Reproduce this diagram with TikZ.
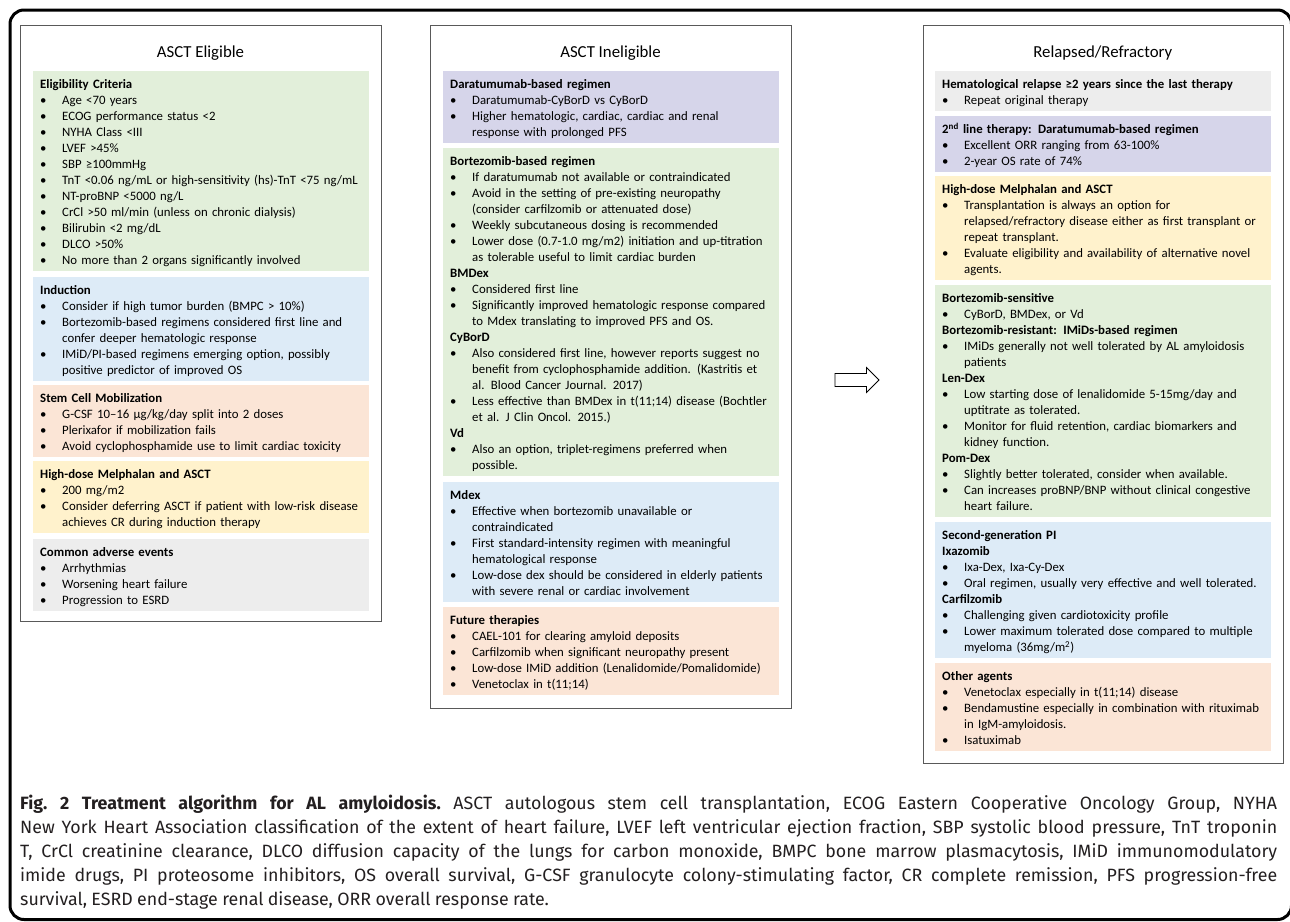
\documentclass[tikz,border=0pt]{standalone}
\usepackage{fontspec}
\setmainfont{Carlito}
\newfontfamily\capfont{Fira Sans}
\definecolor{cgreen}{HTML}{E2EFDA}
\definecolor{cblue}{HTML}{DDEBF7}
\definecolor{cpeach}{HTML}{FBE5D6}
\definecolor{cyellow}{HTML}{FFF2CC}
\definecolor{cgray}{HTML}{EDEDED}
\definecolor{clav}{HTML}{D6D5EA}
\definecolor{cframe}{HTML}{595959}
\definecolor{ctext}{HTML}{231F20}
\newcommand\hd[1]{\par\noindent\strut\textbf{#1}}
\newcommand\bu[1]{\par\noindent\strut\makebox[22pt][l]{\textbullet}#1}
\newcommand\ct[1]{\par\noindent\strut\hspace*{22pt}#1}
\newcommand\capset{\frenchspacing\spaceskip=4.4pt plus 30pt minus 1.2pt\relax}
\tikzset{
  panel/.style={draw=none, inner sep=0pt, outer sep=0pt, anchor=north west, minimum width=336pt},
  txt/.style={inner sep=0pt, text width=360pt, align=left, anchor=north west, font=\fontsize{12.8}{16}\selectfont},
  colbox/.style={draw=cframe, line width=1.3pt, inner sep=0pt, anchor=north west, minimum width=361pt},
  ttl/.style={anchor=base, inner sep=0pt, font=\fontsize{16.8}{19}\selectfont},
  capt/.style={anchor=north west, inner sep=0pt, text width=1257pt, text=ctext,
    font=\capfont\fontsize{17.8}{24}\selectfont},
  frame/.style={draw=black, line width=3pt, rounded corners=14pt},
  blockarrow/.style={draw=black, line width=0.8pt, fill=white},
}
% name, colour, x, y, height, content
\newcommand\pnl[6]{%
  \node[panel, fill=#2, minimum height=#5pt] (#1) at (#3,#4) {};
  \node[txt] (#1t) at ([xshift=7pt,yshift=-1.2pt]#1.north west) {#6};}
\begin{document}
\begin{tikzpicture}[x=1pt,y=-1pt]
\useasboundingbox (0,0) rectangle (1290,921);
\begin{scope}
  \clip (0,0) rectangle (1290,921);
  \draw[frame] (10,10) rectangle (1291.5,919.5);
\end{scope}

% ---------- left column ----------
\node[colbox, minimum height=596pt] (c1) at (20,25) {};
\node[ttl] (h1) at (200.5,57.5) {ASCT Eligible};
\pnl{l1}{cgreen}{33}{71}{200}{%
\hd{Eligibility Criteria}
\bu{Age <70 years}
\bu{ECOG performance status <2}
\bu{NYHA Class <III}
\bu{LVEF >45\%}
\bu{SBP ≥100mmHg}
\bu{TnT <0.06 ng/mL or high-sensitivity (hs)-TnT <75 ng/mL}
\bu{NT-proBNP <5000 ng/L}
\bu{CrCl >50 ml/min (unless on chronic dialysis)}
\bu{Bilirubin <2 mg/dL}
\bu{DLCO >50\%}
\bu{No more than 2 organs significantly involved}}
\pnl{l2}{cblue}{33}{277}{104}{%
\hd{Induction}
\bu{Consider if high tumor burden (BMPC > 10\%)}
\bu{Bortezomib-based regimens considered first line and}
\ct{confer deeper hematologic response}
\bu{IMiD/PI-based regimens emerging option, possibly}
\ct{positive predictor of improved OS}}
\pnl{l3}{cpeach}{33}{385}{72}{%
\hd{Stem Cell Mobilization}
\bu{G-CSF 10–16 µg/kg/day split into 2 doses}
\bu{Plerixafor if mobilization fails}
\bu{Avoid cyclophosphamide use to limit cardiac toxicity}}
\pnl{l4}{cyellow}{33}{461}{72}{%
\hd{High-dose Melphalan and ASCT}
\bu{200 mg/m2}
\bu{Consider deferring ASCT if patient with low-risk disease}
\ct{achieves CR during induction therapy}}
\pnl{l5}{cgray}{33}{539}{72}{%
\hd{Common adverse events}
\bu{Arrhythmias}
\bu{Worsening heart failure}
\bu{Progression to ESRD}}

% ---------- middle column ----------
\node[colbox, minimum height=683pt] (c2) at (430,25) {};
\node[ttl] (h2) at (610.5,57.5) {ASCT Ineligible};
\pnl{m1}{clav}{443}{71}{72}{%
\hd{Daratumumab-based regimen}
\bu{Daratumumab-CyBorD vs CyBorD}
\bu{Higher hematologic, cardiac, cardiac and renal}
\ct{response with prolonged PFS}}
\pnl{m2}{cgreen}{443}{148}{328}{%
\hd{Bortezomib-based regimen}
\bu{If daratumumab not available or contraindicated}
\bu{Avoid in the setting of pre-existing neuropathy}
\ct{(consider carfilzomib or attenuated dose)}
\bu{Weekly subcutaneous dosing is recommended}
\bu{Lower dose (0.7-1.0 mg/m2) initiation and up-titration}
\ct{as tolerable useful to limit cardiac burden}
\hd{BMDex}
\bu{Considered first line}
\bu{Significantly improved hematologic response compared}
\ct{to Mdex translating to improved PFS and OS.}
\hd{CyBorD}
\bu{Also considered first line, however reports suggest no}
\ct{benefit from cyclophosphamide addition. (Kastritis et}
\ct{al. Blood Cancer Journal. 2017)}
\bu{Less effective than BMDex in t(11;14) disease (Bochtler}
\ct{et al. J Clin Oncol. 2015.)}
\hd{Vd}
\bu{Also an option, triplet-regimens preferred when}
\ct{possible.}}
\pnl{m3}{cblue}{443}{482}{120}{%
\hd{Mdex}
\bu{Effective when bortezomib unavailable or}
\ct{contraindicated}
\bu{First standard-intensity regimen with meaningful}
\ct{hematological response}
\bu{Low-dose dex should be considered in elderly patients}
\ct{with severe renal or cardiac involvement}}
\pnl{m4}{cpeach}{443}{607}{88}{%
\hd{Future therapies}
\bu{CAEL-101 for clearing amyloid deposits}
\bu{Carfilzomib when significant neuropathy present}
\bu{Low-dose IMiD addition (Lenalidomide/Pomalidomide)}
\bu{Venetoclax in t(11;14)}}

% ---------- arrow ----------
\draw[blockarrow] (835,373.5) -- (866.5,373.5) -- (866.5,367.5) -- (879,380)
  -- (866.5,392.5) -- (866.5,386.5) -- (835,386.5) -- cycle;

% ---------- right column ----------
\node[colbox, minimum height=738pt, minimum width=360.5pt] (c3) at (922.5,25) {};
\node[ttl] (h3) at (1102.75,57.5) {Relapsed/Refractory};
\pnl{r1}{cgray}{935}{71}{40}{%
\hd{Hematological relapse ≥2 years since the last therapy}
\bu{Repeat original therapy}}
\pnl{r2}{clav}{935}{116}{56}{%
\hd{2\textsuperscript{nd} line therapy: Daratumumab-based regimen}
\bu{Excellent ORR ranging from 63-100\%}
\bu{2-year OS rate of 74\%}}
\pnl{r3}{cyellow}{935}{176}{104}{%
\hd{High-dose Melphalan and ASCT}
\bu{Transplantation is always an option for}
\ct{relapsed/refractory disease either as first transplant or}
\ct{repeat transplant.}
\bu{Evaluate eligibility and availability of alternative novel}
\ct{agents.}}
\pnl{r4}{cgreen}{935}{285}{232}{%
\hd{Bortezomib-sensitive}
\bu{CyBorD, BMDex, or Vd}
\hd{Bortezomib-resistant: IMiDs-based regimen}
\bu{IMiDs generally not well tolerated by AL amyloidosis}
\ct{patients}
\hd{Len-Dex}
\bu{Low starting dose of lenalidomide 5-15mg/day and}
\ct{uptitrate as tolerated.}
\bu{Monitor for fluid retention, cardiac biomarkers and}
\ct{kidney function.}
\hd{Pom-Dex}
\bu{Slightly better tolerated, consider when available.}
\bu{Can increases proBNP/BNP without clinical congestive}
\ct{heart failure.}}
\pnl{r5}{cblue}{935}{522}{136}{%
\hd{Second-generation PI}
\hd{Ixazomib}
\bu{Ixa-Dex, Ixa-Cy-Dex}
\bu{Oral regimen, usually very effective and well tolerated.}
\hd{Carfilzomib}
\bu{Challenging given cardiotoxicity profile}
\bu{Lower maximum tolerated dose compared to multiple}
\ct{myeloma (36mg/m\textsuperscript{2})}}
\pnl{r6}{cpeach}{935}{663}{88}{%
\hd{Other agents}
\bu{Venetoclax especially in t(11;14) disease}
\bu{Bendamustine especially in combination with rituximab}
\ct{in IgM-amyloidosis.}
\bu{Isatuximab}}

% ---------- caption ----------
\node[capt] (cap) at (20,795) {\capset
\hbox to 1257pt{\textbf{Fig. 2 Treatment algorithm for AL amyloidosis.} ASCT autologous stem cell transplantation, ECOG Eastern Cooperative Oncology Group, NYHA}
\hbox to 1257pt{New York Heart Association classification of the extent of heart failure, LVEF left ventricular ejection fraction, SBP systolic blood pressure, TnT troponin}
\hbox to 1257pt{T, CrCl creatinine clearance, DLCO diffusion capacity of the lungs for carbon monoxide, BMPC bone marrow plasmacytosis, IMiD immunomodulatory}
\hbox to 1257pt{imide drugs, PI proteosome inhibitors, OS overall survival, G-CSF granulocyte colony-stimulating factor, CR complete remission, PFS progression-free}
\hbox{survival, ESRD end-stage renal disease, ORR overall response rate.}};
\end{tikzpicture}
\end{document}
